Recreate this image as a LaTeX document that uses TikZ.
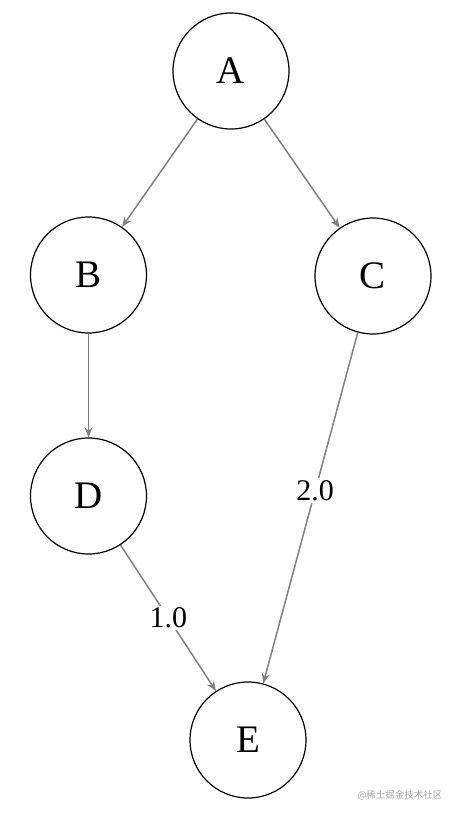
\documentclass[tikz,border=0pt]{standalone}
\usepackage{fontspec}
\setmainfont{Liberation Serif}
\newfontfamily\cjk{Noto Sans CJK SC}
\usetikzlibrary{arrows.meta}
\begin{document}
\begin{tikzpicture}[x=1pt,y=-1pt,
  vnode/.style={circle,draw=black,line width=1.2pt,minimum size=116pt,inner sep=0pt,font=\fontsize{39}{39}\selectfont},
  edgeline/.style={draw={rgb,255:red,128;green,128;blue,128},line width=1.5pt,-{Stealth[length=10pt,width=8pt]}},
  wlabel/.style={fill=white,inner sep=2pt,font=\fontsize{30}{30}\selectfont}]
\useasboundingbox (0,0) rectangle (460,816);
\node[vnode] (A) at (231,71) {A};
\node[vnode] (B) at (88.5,275) {B};
\node[vnode] (C) at (373,276) {C};
\node[vnode] (D) at (88.5,496) {D};
\node[vnode] (E) at (248,740) {E};
\draw[edgeline] (A) -- (B);
\draw[edgeline] (A) -- (C);
\draw[edgeline] (B) -- (D);
\draw[edgeline] (D) -- node[wlabel] {1.0} (E);
\draw[edgeline] (C) -- node[wlabel,pos=0.45] {2.0} (E);
\node[text=black!35,font=\cjk\fontsize{9.5}{9.5}\selectfont] (wm) at (400,795) {@稀土掘金技术社区};
\end{tikzpicture}
\end{document}
